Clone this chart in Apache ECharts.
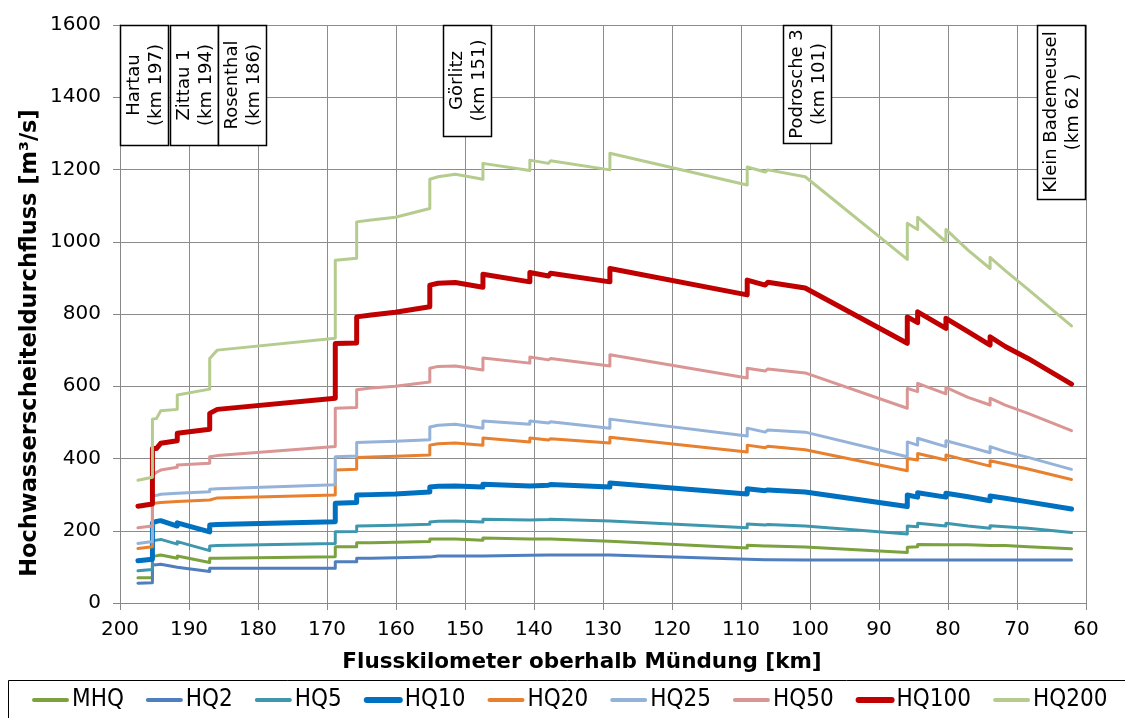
<!DOCTYPE html>
<html>
<head>
<meta charset="utf-8">
<script src="https://cdn.jsdelivr.net/npm/echarts@6/dist/echarts.min.js"></script>
<style>html,body{margin:0;padding:0;background:#fff;}#c{width:1125px;height:718px;}</style>
</head>
<body>
<div id="c"></div>
<script>
// Shared river-km breakpoints (duplicated km = vertical jump)
const km = [197.4,195.3,195.3,194.7,194.1,191.7,191.7,187.0,187.0,185.9,
  168.8,168.8,165.7,165.7,163.6,160.1,155.1,155.1,153.9,151.4,
  147.4,147.4,140.6,140.6,137.9,137.6,129.0,129.0,109.1,109.1,
  106.5,106.1,100.7,85.9,85.9,84.4,84.4,80.3,80.3,77.1,
  73.9,73.9,71.7,68.4,62.1];

const MHQ = [70,70,130,131,133,124,130,112,124,124,
  128,156,156,167,167,168,170,177,177,177,
  174,180,177,178,177,177,171,174,152,160,
  158,158,155,140,154,156,162,161,163,161,
  159,159,159,156,150];
const HQ2 = [55,56,105,106,107,99,102,87,96,96,
  96,114,114,124,124,125,127,130,130,130,
  130,133,132,133,133,133,133,136,121,121,
  120,120,119,119,119,119,119,119,119,119,
  119,119,119,119,119];
const HQ5 = [89,93,172,174,176,163,170,145,158,159,
  165,197,198,213,214,215,218,224,226,227,
  224,232,230,232,231,232,227,232,208,219,
  216,217,213,191,213,211,221,213,221,213,
  207,214,211,207,195];
const HQ10 = [117,121,222,226,228,213,222,197,216,217,
  225,276,278,299,300,302,307,321,323,324,
  321,329,324,329,326,328,321,332,302,316,
  311,313,307,267,299,293,305,293,304,294,
  283,296,290,280,260];
const HQ20 = [151,156,276,277,278,281,283,285,290,291,
  299,368,370,403,404,406,410,437,441,443,
  437,457,446,457,451,455,443,459,418,437,
  430,434,424,366,400,396,414,396,410,394,
  379,394,385,371,342];
const HQ25 = [165,170,296,298,301,304,305,308,315,316,
  327,405,407,444,446,448,452,487,492,495,
  484,504,495,504,498,502,484,509,462,484,
  473,479,473,405,446,437,456,433,449,433,
  416,433,419,403,370];
const HQ50 = [208,213,354,362,368,376,382,387,405,408,
  433,539,541,590,595,600,612,650,655,656,
  645,678,664,681,673,677,656,687,623,650,
  642,648,637,539,594,585,608,579,597,569,
  548,567,548,525,477];
const HQ100 = [268,274,428,428,442,449,470,481,525,536,
  567,718,720,792,797,805,820,880,885,887,
  874,910,889,915,905,913,889,926,853,894,
  880,888,872,719,792,776,806,760,788,751,
  714,737,710,677,606];
const HQ200 = [340,348,509,511,532,536,576,592,677,700,
  733,949,954,1055,1060,1068,1092,1173,1180,1187,
  1173,1217,1197,1226,1217,1224,1199,1245,1157,1207,
  1193,1199,1180,951,1051,1034,1068,1000,1034,977,
  926,957,920,868,767];

const seriesNames = ['MHQ','HQ2','HQ5','HQ10','HQ20','HQ25','HQ50','HQ100','HQ200'];
const seriesValues = [MHQ,HQ2,HQ5,HQ10,HQ20,HQ25,HQ50,HQ100,HQ200];
const seriesColors = ['#7ba23f','#4f7fbf','#3f97ad','#0070c0','#e8812f','#95b2d8','#d99694','#c00000','#b5cc8e'];
const seriesWidths = [3,3,3,5,3,3,3,5,3];

// Gauge stations: label text and km position of label box
const stationNames = ['Hartau\n(km 197)','Zittau 1\n(km 194)','Rosenthal\n(km 186)','Görlitz\n(km 151)','Podrosche 3\n(km 101)','Klein Bademeusel\n(km 62 )'];
const stationLabelKm = [196.5,189.3,182.3,149.7,100.4,63.6];
const boxHeights = [120,120,120,111,118,174];

const chart = echarts.init(document.getElementById('c'));
const lineSeries = seriesNames.map((n,i)=>({
  name:n, type:'line', data: km.map((k,j)=>[k, seriesValues[i][j]]),
  symbol:'none', showSymbol:false, animation:false,
  color: seriesColors[i],
  lineStyle:{color:seriesColors[i], width:seriesWidths[i], cap:'round', join:'round'},
  z: 3
}));

lineSeries.push({
  name:'stations', type:'custom', coordinateSystem:'cartesian2d', animation:false, silent:true, z:5,
  data: stationLabelKm.map((k)=>[k, 0]),
  renderItem: function(params, api){
    const i = params.dataIndex;
    const x = api.coord([api.value(0), 0])[0];
    const top = params.coordSys.y;
    const h = boxHeights[i];
    return {type:'group', children:[
      {type:'rect', shape:{x:Math.round(x-24)+0.5, y:top+0.5, width:48, height:h}, style:{fill:'#fff', stroke:'#000', lineWidth:1.5}},
      {type:'text', x:x+1, y:top+h/2, rotation:Math.PI/2,
       style:{text:stationNames[i], font:'18px "DejaVu Sans"', fill:'#000', align:'center', verticalAlign:'middle', textAlign:'center', textVerticalAlign:'middle', lineHeight:22}}
    ]};
  }
});

chart.setOption({
  animation:false,
  grid:{left:120, right:39, top:25, bottom:115},
  xAxis:{type:'value', inverse:true, min:60, max:200, interval:10,
    axisLine:{show:true, onZero:false, lineStyle:{color:'#888', width:1}},
    axisTick:{show:true, length:7, lineStyle:{color:'#888'}},
    axisLabel:{color:'#000', fontFamily:'DejaVu Sans', fontSize:20, margin:17, formatter:(v)=>String(v)},
    splitLine:{show:true, lineStyle:{color:'#8c8c8c', width:1}}
  },
  yAxis:{type:'value', min:0, max:1600, interval:200,
    axisLine:{show:true, lineStyle:{color:'#888', width:1}},
    axisTick:{show:true, length:7, lineStyle:{color:'#888'}},
    axisLabel:{color:'#000', fontFamily:'DejaVu Sans', fontSize:20, margin:19, formatter:(v)=>String(v)},
    splitLine:{show:true, lineStyle:{color:'#8c8c8c', width:1}}
  },
  legend:{
    data: seriesNames.map((n,i)=>({name:n, lineStyle:{width:seriesWidths[i]+1}})),
    left:32, top:688, width:1090, padding:0, itemWidth:33, itemHeight:14, itemGap:22,
    itemStyle:{opacity:0},
    textStyle:{color:'#000', fontFamily:'"DejaVu Sans Condensed","Liberation Sans"', fontSize:24}
  },
  graphic:[
    {type:'rect', shape:{x:8.5, y:680.5, width:1130, height:50}, style:{fill:'none', stroke:'#000', lineWidth:1}},
    {type:'text', x:582, y:662, style:{text:'Flusskilometer oberhalb Mündung [km]', font:'bold 21.5px "DejaVu Sans"', fill:'#000', align:'center', verticalAlign:'middle', textAlign:'center', textVerticalAlign:'middle'}},
    {type:'text', x:30, y:343, rotation:Math.PI/2, style:{text:'Hochwasserscheiteldurchfluss [m³/s]', font:'bold 22.5px "DejaVu Sans"', fill:'#000', align:'center', verticalAlign:'middle', textAlign:'center', textVerticalAlign:'middle'}}
  ],
  series: lineSeries
});
</script>
</body>
</html>
